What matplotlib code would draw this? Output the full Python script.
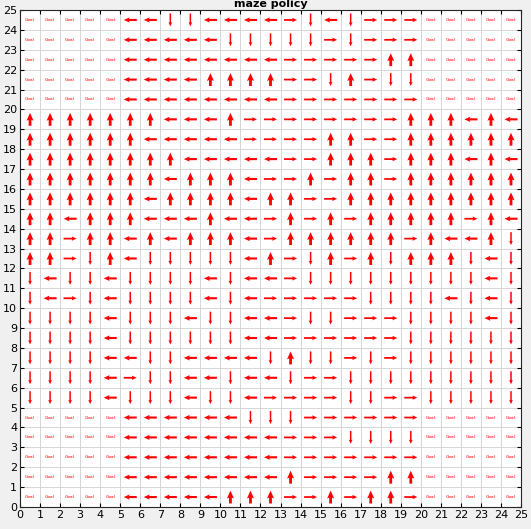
import numpy as np
import matplotlib
matplotlib.use("Agg")
import matplotlib.pyplot as plt

# policy per row, top row (y=24) first; G = goal, U/D/L/R = action
policy_rows = [
    "GGGGGLLDDLLLLRDLDRRRGGGGG",
    "GGGGGLLLLLDDDDDRDRRRGGGGG",
    "GGGGGLLLLLLLLRRRRRUUGGGGG",
    "GGGGGLLLLUUUURRDURDDGGGGG",
    "GGGGGLLLLLLLLRRRRRRRGGGGG",
    "UUUUUUULLLURRRRRRRRUUULUL",
    "UUUUUULLLLLRRRRUURRUUUUUU",
    "UUUUUUUULLLLLRRUUURUUULUL",
    "UUUUUUULUUULRRURUURUUUUUU",
    "UUUUUULUUUULUURRUUUUUUUUU",
    "UULUUULLLULLRURURUUUUURUL",
    "UURUULULUUULRUUUUUURULLUD",
    "UURDULDDDDDLURDURUDUUUDLD",
    "DLDDLDDDDLDLLRDDDDDDDDDLD",
    "DLRDLDDDDLDLRRRRRDDDDLDLD",
    "DDDDLDDDLDDLLRDDRRRDDDDLD",
    "DDDDLDDDDDDLLRRRRRRDDDDDD",
    "DDDDLLDDLLLLDUDDRDRDDDDDD",
    "DDDDLRDDLLDLLDRRDDDDDDDDD",
    "DDDDLDDDLDDLRRRRDDRRDDDDD",
    "GGGGGLLLLLLDDDRRRRRRGGGGG",
    "GGGGGLLLLLLLLRRRDDDDGGGGG",
    "GGGGGLLLLLLLLRRRRRRRGGGGG",
    "GGGGGLLLLLLLLURRRRUUGGGGG",
    "GGGGGLLLLLUUURRURUURGGGGG",
]
directions = {"U": (0, 1), "D": (0, -1), "L": (-1, 0), "R": (1, 0)}
ticks = list(range(26))

fig = plt.figure(figsize=(5.31, 5.29), dpi=100, facecolor="#f0f0f0")
ax = fig.add_axes([0.0377, 0.0416, 0.9435, 0.9395])
ax.set_facecolor("white")

n = len(policy_rows)
arrow_len = 0.65
widths = {"U": 0.0056, "L": 0.0042, "D": 0.003, "R": 0.0035}

for key, (dx, dy) in directions.items():
    xs, ys = [], []
    for i, row in enumerate(policy_rows):
        y = n - 1 - i
        for x, c in enumerate(row):
            if c == key:
                xs.append(x + 0.5)
                ys.append(y + 0.5)
    xs = np.array(xs)
    ys = np.array(ys)
    ax.quiver(xs, ys, np.full(len(xs), dx * arrow_len), np.full(len(xs), dy * arrow_len),
              angles="xy", scale_units="xy", scale=1, pivot="middle", color="red",
              width=widths[key], headwidth=2.5, headlength=2.8, headaxislength=2.5, zorder=3)

for i, row in enumerate(policy_rows):
    y = n - 1 - i
    for x, c in enumerate(row):
        if c == "G":
            ax.text(x + 0.5, y + 0.5, "Goal", color="red", fontsize=3.2,
                    ha="center", va="center", zorder=3)

ax.set_xlim(0, 25)
ax.set_ylim(0, 25)
ax.set_xticks(ticks)
ax.set_yticks(ticks)
ax.grid(True, color="#d6d6d6", linewidth=0.7)
ax.set_axisbelow(True)
ax.tick_params(direction="in", length=3, labelsize=8, top=True, right=True,
               labeltop=False, labelright=False, pad=2)
for sp in ax.spines.values():
    sp.set_linewidth(0.8)
    sp.set_color("#262626")

ax.set_title("maze policy", fontsize=8, fontweight="bold", pad=2.5)

fig.savefig("out.png", dpi=100, facecolor=fig.get_facecolor())
